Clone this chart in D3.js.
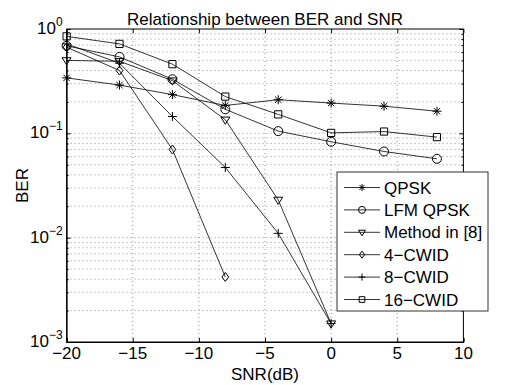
<!DOCTYPE html>
<html>
<head>
<meta charset="utf-8">
<script src="https://cdn.jsdelivr.net/npm/d3@7"></script>
<style>
  body { margin: 0; background: #fff; }
  text { font-family: "Liberation Sans", Arial, sans-serif; fill: #000; }
</style>
</head>
<body>
<div id="chart"></div>
<script>
// SNR points (dB)
const snr = [-20, -16, -12, -8, -4, 0, 4, 8];
// BER values per method
const qpsk = [0.34, 0.29, 0.235, 0.185, 0.21, 0.195, 0.182, 0.163];
const lfmQpsk = [0.69, 0.54, 0.33, 0.17, 0.105, 0.083, 0.067, 0.057];
const method8 = [0.50, 0.49, 0.32, 0.135, 0.023, 0.0015];
const cwid4 = [0.67, 0.40, 0.070, 0.0042];
const cwid8 = [0.72, 0.47, 0.145, 0.047, 0.011, 0.0015];
const cwid16 = [0.85, 0.72, 0.46, 0.225, 0.152, 0.101, 0.104, 0.092];

const seriesNames = ['QPSK', 'LFM QPSK', 'Method in [8]', '4\u2212CWID', '8\u2212CWID', '16\u2212CWID'];
const seriesValues = [qpsk, lfmQpsk, method8, cwid4, cwid8, cwid16];
const seriesMarkers = ['asterisk', 'circle', 'triangle', 'diamond', 'plus', 'square'];

const xTicks = [-20, -15, -10, -5, 0, 5, 10];
const yTicks = [1e-3, 1e-2, 1e-1, 1];
const yTickExp = ['\u22123', '\u22122', '\u22121', '0'];

const width = 512, height = 385;
const margin = {left: 66.6, right: 48.6, top: 29, bottom: 43};

const svg = d3.select('#chart').append('svg')
    .attr('width', width)
    .attr('height', height);

const x = d3.scaleLinear().domain([-20, 10]).range([margin.left, width - margin.right]);
const y = d3.scaleLog().domain([1e-3, 1]).range([height - margin.bottom, margin.top]);

// minor log values for the grid
let minor = [];
for (let k = -3; k < 0; k++) {
    for (let m = 2; m <= 9; m++) minor.push(m * Math.pow(10, k));
}

const grid = svg.append('g')
    .attr('stroke', '#777')
    .attr('stroke-width', 0.8)
    .attr('stroke-dasharray', '1,3');

grid.selectAll('.gx').data(xTicks.slice(1, -1)).enter().append('line')
    .attr('x1', d => x(d)).attr('x2', d => x(d))
    .attr('y1', y(1)).attr('y2', y(1e-3));

grid.selectAll('.gy').data(minor.concat([1e-2, 1e-1])).enter().append('line')
    .attr('x1', x(-20)).attr('x2', x(10))
    .attr('y1', d => y(d)).attr('y2', d => y(d));

// axes with inward ticks
const xAxis = svg.append('g')
    .attr('transform', 'translate(0,' + y(1e-3) + ')')
    .call(d3.axisBottom(x).tickValues(xTicks).tickSize(-4).tickFormat(''));
const xAxisTop = svg.append('g')
    .attr('transform', 'translate(0,' + y(1) + ')')
    .call(d3.axisTop(x).tickValues(xTicks).tickSize(-4).tickFormat(''));
const yAxis = svg.append('g')
    .attr('transform', 'translate(' + x(-20) + ',0)')
    .call(d3.axisLeft(y).tickValues(yTicks).tickSize(-4).tickFormat(''));
const yAxisR = svg.append('g')
    .attr('transform', 'translate(' + x(10) + ',0)')
    .call(d3.axisRight(y).tickValues(yTicks).tickSize(-4).tickFormat(''));
const yMinorL = svg.append('g')
    .attr('transform', 'translate(' + x(-20) + ',0)')
    .call(d3.axisLeft(y).tickValues(minor).tickSize(-2).tickFormat(''));
const yMinorR = svg.append('g')
    .attr('transform', 'translate(' + x(10) + ',0)')
    .call(d3.axisRight(y).tickValues(minor).tickSize(-2).tickFormat(''));

[xAxis, xAxisTop, yAxis, yAxisR, yMinorL, yMinorR].forEach(a => {
    a.selectAll('path, line').attr('stroke', '#000').attr('stroke-width', 1);
});
xAxisTop.select('.domain').remove();
yAxisR.select('.domain').remove();
yMinorL.select('.domain').remove();
yMinorR.select('.domain').remove();
svg.append('rect')
    .attr('x', x(-20)).attr('y', y(1))
    .attr('width', x(10) - x(-20)).attr('height', y(1e-3) - y(1))
    .attr('fill', 'none').attr('stroke', '#000').attr('stroke-width', 1);

// tick labels
svg.selectAll('.xl').data(xTicks).enter().append('text')
    .attr('x', d => x(d))
    .attr('y', y(1e-3) + 17)
    .attr('text-anchor', 'middle')
    .attr('font-size', 17)
    .text(d => d < 0 ? '\u2212' + (-d) : d);

const yl = svg.selectAll('.yl').data(yTicks).enter().append('text')
    .attr('x', x(-20) - 4)
    .attr('y', d => y(d) + 5)
    .attr('text-anchor', 'end')
    .attr('font-size', 17);
yl.append('tspan').text('10');
yl.append('tspan')
    .attr('dy', -8)
    .attr('font-size', 12)
    .text((d, i) => yTickExp[i]);

// titles
svg.append('text')
    .attr('x', (x(-20) + x(10)) / 2).attr('y', 25)
    .attr('text-anchor', 'middle').attr('font-size', 17)
    .text('Relationship between BER and SNR');
svg.append('text')
    .attr('x', (x(-20) + x(10)) / 2).attr('y', 380)
    .attr('text-anchor', 'middle').attr('font-size', 17)
    .text('SNR(dB)');
svg.append('text')
    .attr('transform', 'translate(28,' + ((y(1) + y(1e-3)) / 2) + ') rotate(-90)')
    .attr('text-anchor', 'middle').attr('font-size', 17)
    .text('BER');

// marker drawing
function drawMarker(g, type, s) {
    const p = g.append('path')
        .attr('fill', 'none')
        .attr('stroke', '#000')
        .attr('stroke-width', 1);
    const h = s / 2;
    if (type === 'circle') {
        p.attr('d', d3.symbol().type(d3.symbolCircle).size(Math.PI * h * h)());
    } else if (type === 'square') {
        p.attr('d', `M${-h * 0.8},${-h * 0.8}H${h * 0.8}V${h * 0.8}H${-h * 0.8}Z`);
    } else if (type === 'diamond') {
        p.attr('d', `M0,${-h}L${h * 0.75},0L0,${h}L${-h * 0.75},0Z`);
    } else if (type === 'triangle') {
        p.attr('d', `M${-h},${-h * 0.6}L${h},${-h * 0.6}L0,${h}Z`);
    } else if (type === 'plus') {
        p.attr('d', `M${-h},0H${h}M0,${-h}V${h}`);
    } else if (type === 'asterisk') {
        const k = h * 0.7;
        p.attr('d', `M${-h},0H${h}M0,${-h}V${h}M${-k},${-k}L${k},${k}M${-k},${k}L${k},${-k}`);
    }
}

const line = d3.line()
    .x((d, i) => x(snr[i]))
    .y(d => y(d));

seriesValues.forEach((vals, si) => {
    svg.append('path')
        .datum(vals)
        .attr('d', line)
        .attr('fill', 'none')
        .attr('stroke', '#000')
        .attr('stroke-width', 0.8);
});
seriesValues.forEach((vals, si) => {
    vals.forEach((v, i) => {
        const g = svg.append('g')
            .attr('transform', 'translate(' + x(snr[i]) + ',' + y(v) + ')');
        drawMarker(g, seriesMarkers[si], 9);
    });
});

// legend
const lg = svg.append('g').attr('transform', 'translate(337,172)');
lg.append('rect')
    .attr('width', 151).attr('height', 139)
    .attr('fill', '#fff').attr('stroke', '#333').attr('stroke-width', 1);
seriesNames.forEach((name, i) => {
    const row = lg.append('g').attr('transform', 'translate(0,' + (15.5 + i * 22.4) + ')');
    row.append('line')
        .attr('x1', 7).attr('x2', 43)
        .attr('stroke', '#000').attr('stroke-width', 0.8);
    const m = row.append('g').attr('transform', 'translate(25,0)');
    drawMarker(m, seriesMarkers[i], 7);
    row.append('text')
        .attr('x', 47).attr('y', 6)
        .attr('font-size', 17)
        .text(name);
});
</script>
</body>
</html>
